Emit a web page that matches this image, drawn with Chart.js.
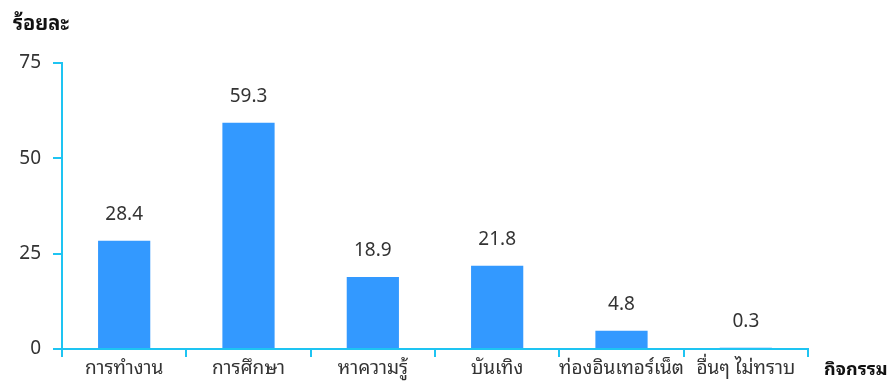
<!DOCTYPE html>
<html>
<head>
<meta charset="utf-8">
<script src="https://cdn.jsdelivr.net/npm/chart.js@4.4.0/dist/chart.umd.min.js"></script>
<style>
    html, body { margin: 0; padding: 0; background: #fff; }
    #wrap { width: 891px; height: 383px; }
</style>
</head>
<body>
<div id="wrap"><canvas id="grafico"></canvas></div>
<script>
// กิจกรรมที่ใช้อินเทอร์เน็ต (ร้อยละ)
const categorias = ['การทำงาน', 'การศึกษา', 'หาความรู้', 'บันเทิง', 'ท่องอินเทอร์เน็ต', 'อื่นๆ ไม่ทราบ'];
const valores = [28.4, 59.3, 18.9, 21.8, 4.8, 0.3];
const ticksY = [0, 25, 50, 75];

const corEixo = '#1ec4f2';
const corBarra = '#3399ff';
const fonte = "'Noto Sans Thai Looped', 'Noto Sans', 'Noto Sans Thai', sans-serif";

// rótulos de valor acima das barras + títulos dos eixos
const rotulos = {
    id: 'rotulos',
    afterDatasetsDraw(chart) {
        const ctx = chart.ctx;
        const meta = chart.getDatasetMeta(0);
        ctx.save();
        ctx.font = '19px ' + fonte;
        ctx.fillStyle = '#333';
        ctx.textAlign = 'center';
        ctx.textBaseline = 'middle';
        meta.data.forEach((bar, i) => {
            ctx.fillText(valores[i].toFixed(1), bar.x, bar.y - 26);
        });

        ctx.font = 'bold 20px ' + fonte;
        ctx.fillStyle = '#111';
        ctx.textAlign = 'left';
        ctx.fillText('ร้อยละ', 13, 24);
        ctx.font = 'bold 18px ' + fonte;
        ctx.fillText('กิจกรรม', chart.chartArea.right + 16, 370);
        ctx.restore();
    }
};

new Chart(document.getElementById('grafico'), {
    type: 'bar',
    data: {
        labels: categorias,
        datasets: [{
            data: valores,
            backgroundColor: corBarra,
            categoryPercentage: 1,
            barPercentage: 0.42
        }]
    },
    options: {
        responsive: true,
        maintainAspectRatio: false,
        animation: false,
        layout: {
            padding: { top: 63, right: 83, left: 0, bottom: 0 }
        },
        scales: {
            x: {
                grid: {
                    display: true,
                    drawOnChartArea: false,
                    color: corEixo,
                    lineWidth: 2,
                    tickLength: 8,
                    offset: true
                },
                border: { color: corEixo, width: 2 },
                ticks: {
                    color: '#333',
                    font: { family: fonte, size: 19 },
                    padding: 0,
                    maxRotation: 0,
                    autoSkip: false
                },
                afterFit(scale) { scale.height = 34; }
            },
            y: {
                min: 0,
                max: 75,
                afterBuildTicks(scale) {
                    scale.ticks = ticksY.map(v => ({ value: v }));
                },
                grid: {
                    display: true,
                    drawOnChartArea: false,
                    color: corEixo,
                    lineWidth: 2,
                    tickLength: 9
                },
                border: { color: corEixo, width: 2 },
                ticks: {
                    color: '#333',
                    font: { family: fonte, size: 19 },
                    padding: 12
                },
                afterFit(scale) { scale.width = 62; }
            }
        },
        plugins: {
            legend: { display: false },
            tooltip: { enabled: false }
        }
    },
    plugins: [rotulos]
});
</script>
</body>
</html>
